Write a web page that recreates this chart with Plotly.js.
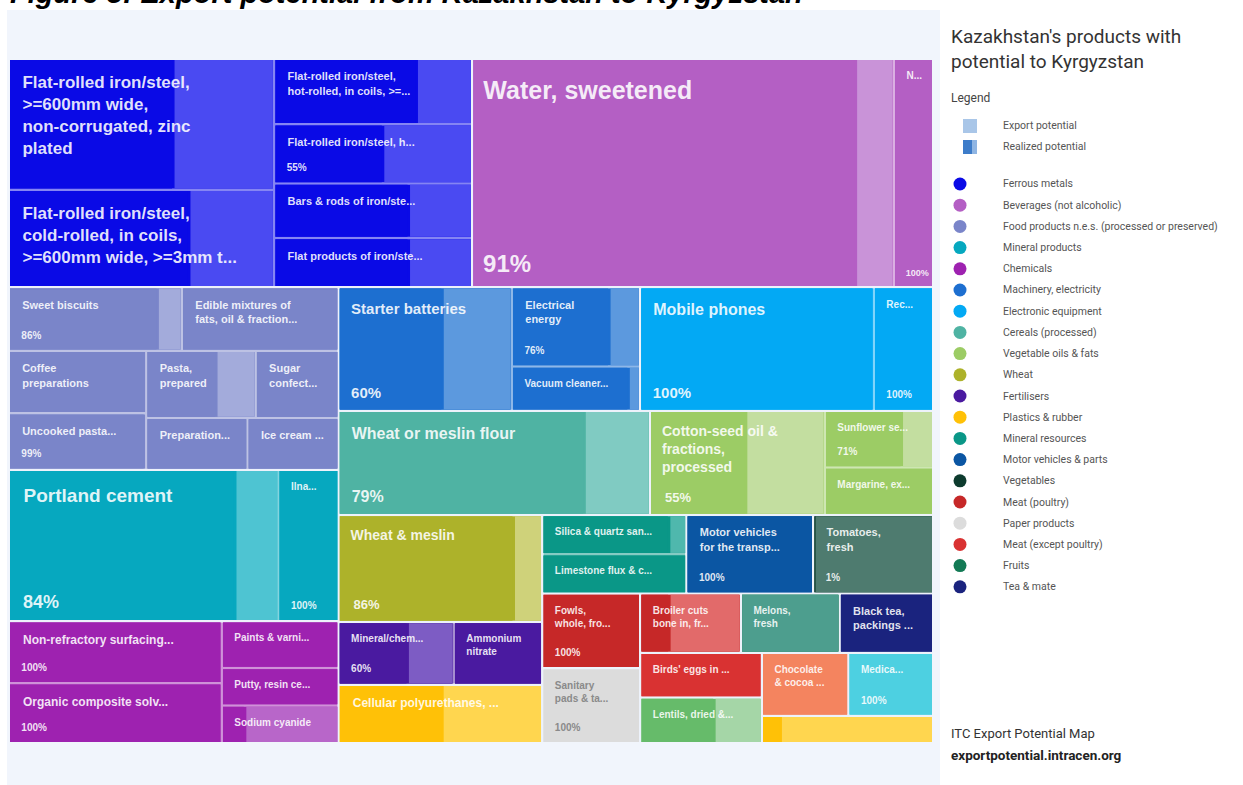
<!DOCTYPE html>
<html><head><meta charset="utf-8">
<script src="https://cdn.plot.ly/plotly-3.0.1.min.js"></script>
<style>html,body{margin:0;padding:0;background:#fff}#chart{width:1243px;height:785px}</style>
</head><body><div id="chart"></div>
<script>
// ---------- DATA ----------
const sectors = ['Ferrous metals','Beverages (not alcoholic)','Food products n.e.s. (processed or preserved)','Mineral products','Chemicals','Machinery, electricity','Electronic equipment','Cereals (processed)','Vegetable oils & fats','Wheat','Fertilisers','Plastics & rubber','Mineral resources','Motor vehicles & parts','Vegetables','Meat (poultry)','Paper products','Meat (except poultry)','Fruits','Tea & mate','Cocoa','Pharmaceuticals','Pulses'];
const legendSectorCount = 20;

const products = [
 'Flat-rolled iron/steel,<br>>=600mm wide,<br>non-corrugated, zinc<br>plated',
 'Flat-rolled iron/steel,<br>cold-rolled, in coils,<br>>=600mm wide, >=3mm t...',
 'Flat-rolled iron/steel,<br>hot-rolled, in coils, >=...',
 'Flat-rolled iron/steel, h...',
 'Bars & rods of iron/ste...',
 'Flat products of iron/ste...',
 'Water, sweetened',
 'N...',
 'Sweet biscuits',
 'Edible mixtures of<br>fats, oil & fraction...',
 'Coffee<br>preparations',
 'Uncooked pasta...',
 'Pasta,<br>prepared',
 'Sugar<br>confect...',
 'Preparation...',
 'Ice cream ...',
 'Portland cement',
 'Ilna...',
 'Non-refractory surfacing...',
 'Organic composite solv...',
 'Paints & varni...',
 'Putty, resin ce...',
 'Sodium cyanide',
 'Starter batteries',
 'Electrical<br>energy',
 'Vacuum cleaner...',
 'Mobile phones',
 'Rec...',
 'Wheat or meslin flour',
 'Cotton-seed oil &<br>fractions,<br>processed',
 'Sunflower se...',
 'Margarine, ex...',
 'Wheat & meslin',
 'Mineral/chem...',
 'Ammonium<br>nitrate',
 'Cellular polyurethanes, ...',
 'Silica & quartz san...',
 'Limestone flux & c...',
 'Motor vehicles<br>for the transp...',
 'Tomatoes,<br>fresh',
 'Fowls,<br>whole, fro...',
 'Sanitary<br>pads & ta...',
 'Broiler cuts<br>bone in, fr...',
 'Melons,<br>fresh',
 'Black tea,<br>packings ...',
 "Birds' eggs in ...",
 'Lentils, dried &...',
 'Chocolate<br>& cocoa ...',
 'Medica...',
 ''
];
const productSector = [0,0,0,0,0,0, 1,1, 2,2,2,2,2,2,2,2, 3,3, 4,4,4,4,4, 5,5,5, 6,6, 7, 8,8,8, 9, 10,10, 11, 12,12, 13, 14, 15, 16, 15, 18, 19, 17, 22, 20, 21, 11];
// export potential (USD million, estimated from tile areas)
const potential = [33.2,24.7,12.4,11.2,10.3,9.3, 92.0,8.6, 10.5,9.5,8.2,7.4,7.0,5.3,5.0,4.5, 39.0,8.7, 12.6,12.2,5.2,4.2,4.2, 20.4,9.7,5.4,27.5,7.0, 31.0,17.4,5.9,4.9, 20.8,6.9,5.3,11.4, 5.4,5.4,9.5,9.0, 7.0,7.0,5.7,5.6,5.3,5.2,5.3,5.2,5.1,4.5];
// realized potential (% of export potential)
const realizedPct = [62,68,72,55,68,68, 91,100, 86,100,100,99,64,100,100,100, 84,100, 100,100,100,100,20, 60,76,91,100,100, 79,55,71,100, 86,60,100,51, 88,100,100,1, 100,100,29,0,100,100,61,100,100,11];
const pctShown = [3,6,7,8,11,16,17,18,19,23,24,26,27,28,29,30,32,33,38,39,40,41,48];

// ---------- STYLE ----------
const sectorDark  = ['#0a0ae6','#b45fc4','#7a85c9','#06a8bf','#9e22b0','#1d6fd0','#03a9f4','#4fb3a3','#9ccc65','#adb22a','#4a1aa0','#ffc107','#0a9787','#0b56a3','#0d3b2e','#c62828','#dcdcdc','#d93232','#137a55','#1a237e','#f4845f','#4dd0e1','#66bb6a'];
const sectorLight = ['#4a4af2','#c993d8','#a3abdb','#4ec4d2','#b866c9','#5c99de','#4fc3f7','#80cbc2','#c3dea0','#cfd27a','#7d5cc4','#ffd64f','#4fb8ad','#5486c2','#4e7b6f','#e26a6a','#e8e8e8','#ea7070','#4d9e8e','#4b55a8','#f7a88c','#86dfeb','#a5d6a7'];
const labelSize = [17,17,11,11,11,11, 25,10, 11,11,11,11,11,11,11,11, 19,10, 12,12,10,10,10, 15,11,10,16,10, 16,14,10,10, 14,10,10,12, 10,10,11,11, 10,10,10,10,11,10,10,10,10,10];
const pctSize = {6:24,16:18,23:15,26:15,28:16,29:13,32:13};

// guillotine arrangement of the tiles (v = stacked, h = side by side)
const layoutTree = ['v',
  ['h', ['h', ['v',0,1], ['v',2,3,4,5]], ['h',6,7]],
  ['h',
    ['v', ['v', ['h',8,9], ['h', ['v',10,11], ['v', ['h',12,13], ['h',14,15]]]], ['h',16,17], ['h', ['v',18,19], ['v',20,21,22]]],
    ['v',
      ['h', ['h',23,['v',24,25]], ['h',26,27]],
      ['h', 28, ['h',29,['v',30,31]]],
      ['h', ['v',32,['h',33,34],35], ['v', ['h',['v',36,37],38,39], ['h', ['v',40,41], ['v', ['h',42,43,44], ['h', ['v',45,46], ['v', ['h',47,48], 49]]]]]]
    ]
  ]
];

const W = 1243, H = 785;
const px = x => x / W, py = y => 1 - y / H;
function mix(hex, t) {
  const n = parseInt(hex.slice(1), 16);
  const f = c => Math.round(c + (255 - c) * t);
  return `rgb(${f((n>>16)&255)},${f((n>>8)&255)},${f(n&255)})`;
}
const BG = '#edf2fb';
const CLEAR = 'rgba(0,0,0,0)';
const NB = '\u00a0';
const indent = s => NB.repeat(Math.max(1, Math.round(9.5 / (0.278 * s))));
function leavesOf(node) { return typeof node === 'number' ? [node] : node.slice(1).flatMap(leavesOf); }
function gapColor(node) {
  const s = new Set(leavesOf(node).map(i => productSector[i]));
  return s.size === 1 ? mix(sectorDark[[...s][0]], 0.5) : BG;
}

function buildTrace(mode) {
  const ids = [], parents = [], values = [], colors = [], texts = [], sizes = [], fcolors = [];
  let n = 0;
  const dirAt = d => (d % 2 === 0 ? 'v' : 'h');
  function push(id, parent, value, color, text, size, fc) {
    ids.push(id); parents.push(parent); values.push(value); colors.push(color);
    texts.push(text || ''); sizes.push(size || 10); fcolors.push(fc || 'rgba(255,255,255,0.88)');
  }
  function addProduct(i, parent, depth) {
    const id = 'p' + i;
    const sec = productSector[i];
    if (mode === 'fill') {
      push(id, parent, 0, sectorDark[sec]);
      let holder = id;
      if (dirAt(depth) !== 'h') { holder = id + 'w'; push(holder, id, 0, sectorDark[sec]); }
      const real = potential[i] * realizedPct[i] / 100;
      const rest = potential[i] - real;
      if (real > 0) push(id + 'r', holder, real, sectorDark[sec]);
      if (rest > 0.0001) push(id + 'u', holder, rest, sectorLight[sec]);
    } else {
      const fc = sec === 16 ? '#8a8a8a' : 'rgba(255,255,255,0.88)';
      let txt = '', sz;
      if (mode === 'label') {
        sz = labelSize[i];
        if (products[i]) {
          const pad = indent(sz);
          txt = '<span style="font-size:3px">' + NB + '</span><br>' +
                products[i].split('<br>').map(l => pad + '<b>' + l + '</b>').join('<br>');
        }
      } else {
        const S = pctSize[i] || 10;
        sz = (6 + 0.21 * S) / 1.51;
        if (pctShown.includes(i)) {
          txt = '<span style="font-size:' + S + 'px"><b>' + indent(S) + realizedPct[i] + '%</b></span><br>' + NB;
        }
      }
      push(id, parent, potential[i], CLEAR, txt, sz, fc);
    }
  }
  function addNode(node, parent, depth) {
    if (typeof node === 'number') { addProduct(node, parent, depth); return; }
    const id = 'g' + (n++);
    const col = mode === 'fill' ? gapColor(node) : CLEAR;
    push(id, parent, 0, col);
    let holder = id, hd = depth;
    if (dirAt(depth) !== node[0]) { holder = 'w' + (n++); push(holder, id, 0, col); hd = depth + 1; }
    node.slice(1).forEach(ch => addNode(ch, holder, hd + 1));
  }
  addNode(layoutTree, '', 0);
  return {
    type: 'treemap', ids: ids, labels: ids, parents: parents, values: values,
    branchvalues: 'remainder', sort: false,
    tiling: {packing: 'dice-slice', pad: 2.5},
    pathbar: {visible: false},
    domain: {x: [px(10), px(932)], y: [py(742), py(60)]},
    marker: {colors: colors, pad: {t: 0, l: 0, r: 0, b: 0}, line: {width: 0}, depthfade: false},
    leaf: {opacity: 1},
    hoverinfo: 'none',
    text: texts,
    textinfo: mode === 'fill' ? 'none' : 'text',
    textposition: mode === 'pct' ? 'bottom left' : 'top left',
    textfont: {family: 'Liberation Sans, Arial, sans-serif', size: sizes, color: fcolors}
  };
}

const data = [buildTrace('fill'), buildTrace('label'), buildTrace('pct')];

// ---------- side legend ----------
const shapes = [
  {type:'rect', xref:'paper', yref:'paper', x0:px(7), x1:px(940), y0:py(785), y1:py(10), fillcolor:'#f1f5fc', line:{width:0}, layer:'below'},
  {type:'rect', xref:'paper', yref:'paper', x0:px(963), x1:px(977), y0:py(133), y1:py(119), fillcolor:'#a9c6e8', line:{width:0}},
  {type:'rect', xref:'paper', yref:'paper', x0:px(963), x1:px(972), y0:py(154), y1:py(140), fillcolor:'#3d7cc9', line:{width:0}},
  {type:'rect', xref:'paper', yref:'paper', x0:px(972), x1:px(977), y0:py(154), y1:py(140), fillcolor:'#8fb5e3', line:{width:0}}
];
const annotations = [
  {text:'<b><i>Figure 5: Export potential from Kazakhstan to Kyrgyzstan</i></b>', x:px(8), y:py(11), xanchor:'left', yanchor:'bottom', font:{family:'Liberation Sans, Arial', size:29, color:'#000'}},
  {text:"Kazakhstan's products with<br>potential to Kyrgyzstan", x:px(949), y:py(23), xanchor:'left', yanchor:'top', align:'left', font:{family:'Roboto', size:19, color:'#333'}},
  {text:'Legend', x:px(949), y:py(98), xanchor:'left', yanchor:'middle', font:{family:'Roboto', size:12, color:'#444'}},
  {text:'Export potential', x:px(1001), y:py(126), xanchor:'left', yanchor:'middle', font:{family:'Roboto', size:10.5, color:'#555'}},
  {text:'Realized potential', x:px(1001), y:py(147), xanchor:'left', yanchor:'middle', font:{family:'Roboto', size:10.5, color:'#555'}},
  {text:'ITC Export Potential Map', x:px(949), y:py(733), xanchor:'left', yanchor:'middle', font:{family:'Roboto', size:13, color:'#333'}},
  {text:'<b>exportpotential.intracen.org</b>', x:px(949), y:py(755), xanchor:'left', yanchor:'middle', font:{family:'Roboto', size:13.5, color:'#222'}}
];
for (let k = 0; k < legendSectorCount; k++) {
  const cy = 184 + k * 21.2;
  shapes.push({type:'circle', xref:'paper', yref:'paper', x0:px(953.5), x1:px(966.5), y0:py(cy+6.5), y1:py(cy-6.5), fillcolor:sectorDark[k], line:{width:0}});
  annotations.push({text:sectors[k], x:px(1001), y:py(cy), xanchor:'left', yanchor:'middle', font:{family:'Roboto', size:10.5, color:'#555'}});
}
annotations.forEach(a => { a.xref = 'paper'; a.yref = 'paper'; a.showarrow = false; });

const layout = {
  width: W, height: H, margin: {l:0, r:0, t:0, b:0, pad:0},
  paper_bgcolor: '#ffffff', plot_bgcolor: '#ffffff',
  shapes: shapes, annotations: annotations, showlegend: false
};
Plotly.newPlot('chart', data, layout, {displayModeBar: false, staticPlot: true});
</script></body></html>
